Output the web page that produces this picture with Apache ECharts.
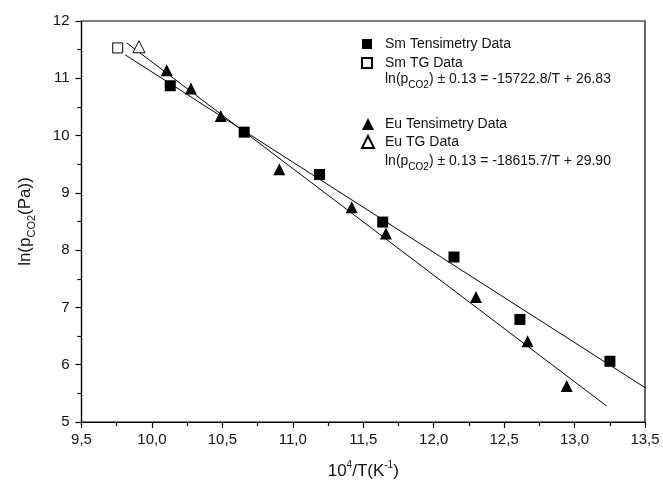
<!DOCTYPE html>
<html><head><meta charset="utf-8">
<script src="https://cdn.jsdelivr.net/npm/echarts@6/dist/echarts.min.js"></script>
<style>html,body{margin:0;padding:0;background:#fff}#c{width:663px;height:487px}</style>
</head><body><div id="c"></div>
<script>
const smTensX = [10.13, 10.655, 11.19, 11.638, 12.144, 12.612, 13.251];
const smTensY = [10.87, 10.06, 9.32, 8.49, 7.88, 6.79, 6.06];
const smTgX = [9.757];
const smTgY = [11.53];
const euTensX = [10.105, 10.277, 10.488, 10.904, 11.418, 11.661, 12.30, 12.667, 12.944];
const euTensY = [11.14, 10.82, 10.34, 9.41, 8.75, 8.29, 7.18, 6.41, 5.63];
const euTgX = [9.908];
const euTgY = [11.55];
const smFitX = [9.81, 13.5];
const smFitY = [11.41, 5.60];
const euFitX = [9.82, 13.227];
const euFitY = [11.62, 5.28];
const seriesNames = ['Sm Tensimetry Data', 'Sm TG Data', 'Eu Tensimetry Data', 'Eu TG Data'];
const smEquation = ['-15722.8/T + 26.83'];
const euEquation = ['-18615.7/T + 29.90'];

const zip = (xs, ys) => xs.map((x, i) => [x, ys[i]]);
const FONT = 'Liberation Sans';
const chart = echarts.init(document.getElementById('c'));

const eqText = (rhs) => 'ln(p{sub|CO2}) ± 0.13 = ' + rhs;
const eqRich = {
  sub: { fontSize: 10, verticalAlign: 'bottom', lineHeight: 22, fontFamily: FONT, fill: '#000' }
};

chart.setOption({
  animation: false,
  backgroundColor: '#fff',
  grid: { left: 81.5, right: 18, top: 21, bottom: 65, show: true, borderColor: '#000', borderWidth: 1.2, backgroundColor: 'transparent' },
  xAxis: {
    type: 'value', min: 9.5, max: 13.5, interval: 0.5,
    axisLine: { show: true, lineStyle: { color: '#000', width: 1.2 } },
    axisTick: { show: true, inside: false, length: 6, lineStyle: { color: '#000', width: 1.2 } },
    minorTick: { show: true, splitNumber: 2, length: 4, lineStyle: { color: '#000', width: 1.2 } },
    splitLine: { show: false },
    axisLabel: { color: '#111', fontSize: 15, fontFamily: FONT, margin: 10,
      formatter: v => v.toFixed(1).replace('.', ',') },
    name: '10{sup|4}/T(K{sup|-1})',
    nameLocation: 'middle', nameGap: 38,
    nameTextStyle: { color: '#111', fontSize: 17, fontFamily: FONT, lineHeight: 22,
      rich: { sup: { fontSize: 10, verticalAlign: 'top', lineHeight: 22, fontFamily: FONT, color: '#111' } } }
  },
  yAxis: {
    type: 'value', min: 5, max: 12, interval: 1,
    axisLine: { show: true, lineStyle: { color: '#000', width: 1.2 } },
    axisTick: { show: true, inside: false, length: 6, lineStyle: { color: '#000', width: 1.2 } },
    minorTick: { show: true, splitNumber: 2, length: 4, lineStyle: { color: '#000', width: 1.2 } },
    splitLine: { show: false },
    axisLabel: { color: '#111', fontSize: 15, fontFamily: FONT, margin: 12 },
    name: 'ln(p{sub|CO2}(Pa))',
    nameLocation: 'middle', nameGap: 44, nameRotate: 90,
    nameTextStyle: { color: '#111', fontSize: 17, fontFamily: FONT, lineHeight: 24,
      rich: { sub: { fontSize: 11, verticalAlign: 'bottom', lineHeight: 24, fontFamily: FONT, color: '#111' } } }
  },
  legend: [
    { orient: 'vertical', left: 356, top: 32, itemWidth: 10, itemHeight: 10, itemGap: 5,
      data: [seriesNames[0], seriesNames[1]],
      textStyle: { fontSize: 14, fontFamily: FONT, color: '#111', padding: [0, 0, 0, 8] } },
    { orient: 'vertical', left: 356, top: 112, itemWidth: 12, itemHeight: 12, itemGap: 4,
      data: [seriesNames[2], seriesNames[3]],
      textStyle: { fontSize: 14, fontFamily: FONT, color: '#111', padding: [0, 0, 0, 6] } }
  ],
  graphic: [
    { type: 'text', left: 385, top: 68, style: { text: eqText(smEquation[0]), fontSize: 14, fontFamily: FONT, fill: '#111', lineHeight: 22, rich: eqRich } },
    { type: 'text', left: 385, top: 150, style: { text: eqText(euEquation[0]), fontSize: 14, fontFamily: FONT, fill: '#111', lineHeight: 22, rich: eqRich } }
  ],
  series: [
    { name: 'smFit', type: 'line', data: zip(smFitX, smFitY), symbol: 'none', lineStyle: { color: '#000', width: 1 }, silent: true, z: 1 },
    { name: 'euFit', type: 'line', data: zip(euFitX, euFitY), symbol: 'none', lineStyle: { color: '#000', width: 1 }, silent: true, z: 1 },
    { name: seriesNames[0], type: 'scatter', data: zip(smTensX, smTensY), symbol: 'rect', symbolSize: 11, itemStyle: { color: '#000', opacity: 1 }, z: 3 },
    { name: seriesNames[1], type: 'scatter', data: zip(smTgX, smTgY), symbol: 'rect', symbolSize: 10, itemStyle: { color: '#fff', borderColor: '#000', borderWidth: 1, opacity: 1 }, z: 3 },
    { name: seriesNames[2], type: 'scatter', data: zip(euTensX, euTensY), symbol: 'triangle', symbolSize: 12, itemStyle: { color: '#000', opacity: 1 }, z: 3 },
    { name: seriesNames[3], type: 'scatter', data: zip(euTgX, euTgY), symbol: 'triangle', symbolSize: 12, itemStyle: { color: '#fff', borderColor: '#000', borderWidth: 1, opacity: 1 }, z: 3 }
  ]
});
</script></body></html>
